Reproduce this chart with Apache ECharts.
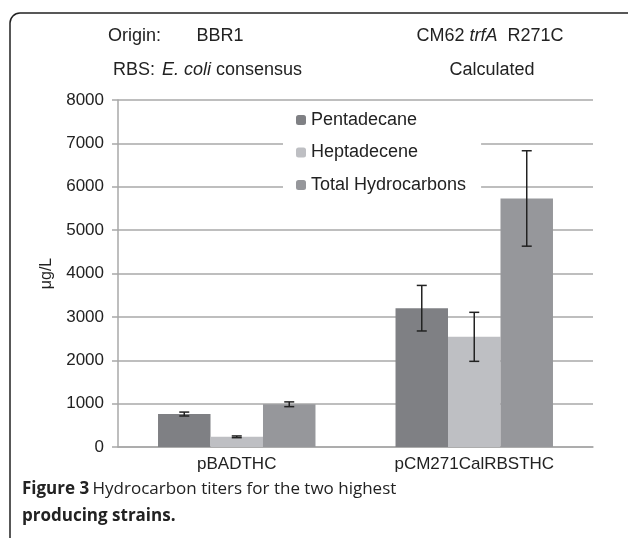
<!DOCTYPE html>
<html>
<head>
<meta charset="utf-8">
<script src="https://cdn.jsdelivr.net/npm/echarts@6/dist/echarts.min.js"></script>
<style>
  html, body { margin: 0; padding: 0; background: #fff; }
  #chart { width: 628px; height: 538px; }
</style>
</head>
<body>
<div id="chart"></div>
<script>
// 数据
var categories = ['pBADTHC', 'pCM271CalRBSTHC']
var seriesNames = ['Pentadecane', 'Heptadecene', 'Total Hydrocarbons']
var pentadecane = [760, 3200]
var pentadecaneErr = [45, 525]
var heptadecene = [235, 2540]
var heptadeceneErr = [20, 565]
var totalHydrocarbons = [985, 5730]
var totalErr = [55, 1100]
var yTicks = { min: 0, max: 8000, interval: 1000 }

var colors = ['#7f8084', '#bebfc3', '#96979b']
var gapRatio = 0.337
var font = '"Liberation Sans", Arial, sans-serif'

// 误差线
function errorRender(offsetIndex) {
  return function (params, api) {
    var x = api.value(0)
    var lo = api.coord([x, api.value(1)])
    var hi = api.coord([x, api.value(2)])
    var band = api.size([1, 0])[0]
    var barW = band * (1 - gapRatio) / 3
    var cx = lo[0] + offsetIndex * barW
    var cap = 5
    var style = { stroke: '#222', lineWidth: 1.5 }
    return {
      type: 'group',
      children: [
        { type: 'line', shape: { x1: cx, y1: lo[1], x2: cx, y2: hi[1] }, style: style },
        { type: 'line', shape: { x1: cx - cap, y1: lo[1], x2: cx + cap, y2: lo[1] }, style: style },
        { type: 'line', shape: { x1: cx - cap, y1: hi[1], x2: cx + cap, y2: hi[1] }, style: style }
      ]
    }
  }
}

function errData(values, errs) {
  return values.map(function (v, i) { return [i, v - errs[i], v + errs[i]] })
}

var txt = function (size, style) {
  return (style ? style + ' ' : '') + size + 'px ' + font
}

var chart = echarts.init(document.getElementById('chart'))
chart.setOption({
  animation: false,
  textStyle: { fontFamily: font },
  grid: { left: 118, right: 35, top: 100, bottom: 91 },
  legend: {
    data: seriesNames,
    orient: 'vertical',
    left: 283,
    top: 101,
    padding: [9, 15, 7, 13],
    backgroundColor: '#fff',
    itemWidth: 10,
    itemHeight: 10,
    itemGap: 12.5,
    textStyle: { fontSize: 18, color: '#222', lineHeight: 20, fontFamily: font }
  },
  xAxis: {
    type: 'category',
    data: categories,
    axisTick: { show: false },
    axisLine: { lineStyle: { color: '#a8a8a8', width: 1.5 } },
    axisLabel: { fontSize: 17, color: '#222', margin: 9 }
  },
  yAxis: {
    type: 'value',
    min: yTicks.min,
    max: yTicks.max,
    interval: yTicks.interval,
    name: 'μg/L',
    nameLocation: 'middle',
    nameGap: 63,
    nameTextStyle: { fontSize: 16, color: '#222' },
    axisLine: { show: true, lineStyle: { color: '#a8a8a8', width: 1.5 } },
    axisTick: { show: true, length: 6, lineStyle: { color: '#a8a8a8', width: 1.5 } },
    splitLine: { lineStyle: { color: '#a8a8a8', width: 1.5 } },
    axisLabel: { fontSize: 17, color: '#222', margin: 14, formatter: function (v) { return String(v) } }
  },
  series: [
    { name: seriesNames[0], type: 'bar', data: pentadecane, itemStyle: { color: colors[0] }, barGap: '0%', barCategoryGap: (gapRatio * 100) + '%' },
    { name: seriesNames[1], type: 'bar', data: heptadecene, itemStyle: { color: colors[1] } },
    { name: seriesNames[2], type: 'bar', data: totalHydrocarbons, itemStyle: { color: colors[2] } },
    { type: 'custom', renderItem: errorRender(-1), data: errData(pentadecane, pentadecaneErr), z: 5 },
    { type: 'custom', renderItem: errorRender(0), data: errData(heptadecene, heptadeceneErr), z: 5 },
    { type: 'custom', renderItem: errorRender(1), data: errData(totalHydrocarbons, totalErr), z: 5 }
  ],
  graphic: [
    { type: 'rect', shape: { x: 10, y: 13, width: 640, height: 560, r: 10 }, style: { fill: 'none', stroke: '#222', lineWidth: 1.5 }, silent: true },
    { type: 'text', x: 108, y: 27, style: { text: 'Origin:', font: txt(18), fill: '#222' } },
    { type: 'text', x: 220, y: 27, style: { text: 'BBR1', font: txt(18), fill: '#222', align: 'center' } },
    { type: 'text', x: 490, y: 27, style: {
      text: '{n|CM62 }{i|trfA}{n|  R271C}', align: 'center',
      rich: { n: { font: txt(18), fill: '#222' }, i: { font: txt(18, 'italic'), fill: '#222' } }
    } },
    { type: 'text', x: 113, y: 61, style: { text: 'RBS:', font: txt(18), fill: '#222' } },
    { type: 'text', x: 162, y: 61, style: {
      text: '{i|E. coli}{n| consensus}',
      rich: { n: { font: txt(18), fill: '#222' }, i: { font: txt(18, 'italic'), fill: '#222' } }
    } },
    { type: 'text', x: 492, y: 61, style: { text: 'Calculated', font: txt(18), fill: '#222', align: 'center' } },
    { type: 'text', left: 22, top: 481, style: {
      text: '{b|Figure 3} {n|Hydrocarbon titers for the two highest}\n{b|producing strains.}',
      rich: {
        b: { font: 'bold 17px "Open Sans", sans-serif', fill: '#222', lineHeight: 27 },
        n: { font: '17px "Open Sans", sans-serif', fill: '#222', lineHeight: 27 }
      }
    } }
  ]
})

window.addEventListener('resize', function () { chart.resize() })
</script>
</body>
</html>
